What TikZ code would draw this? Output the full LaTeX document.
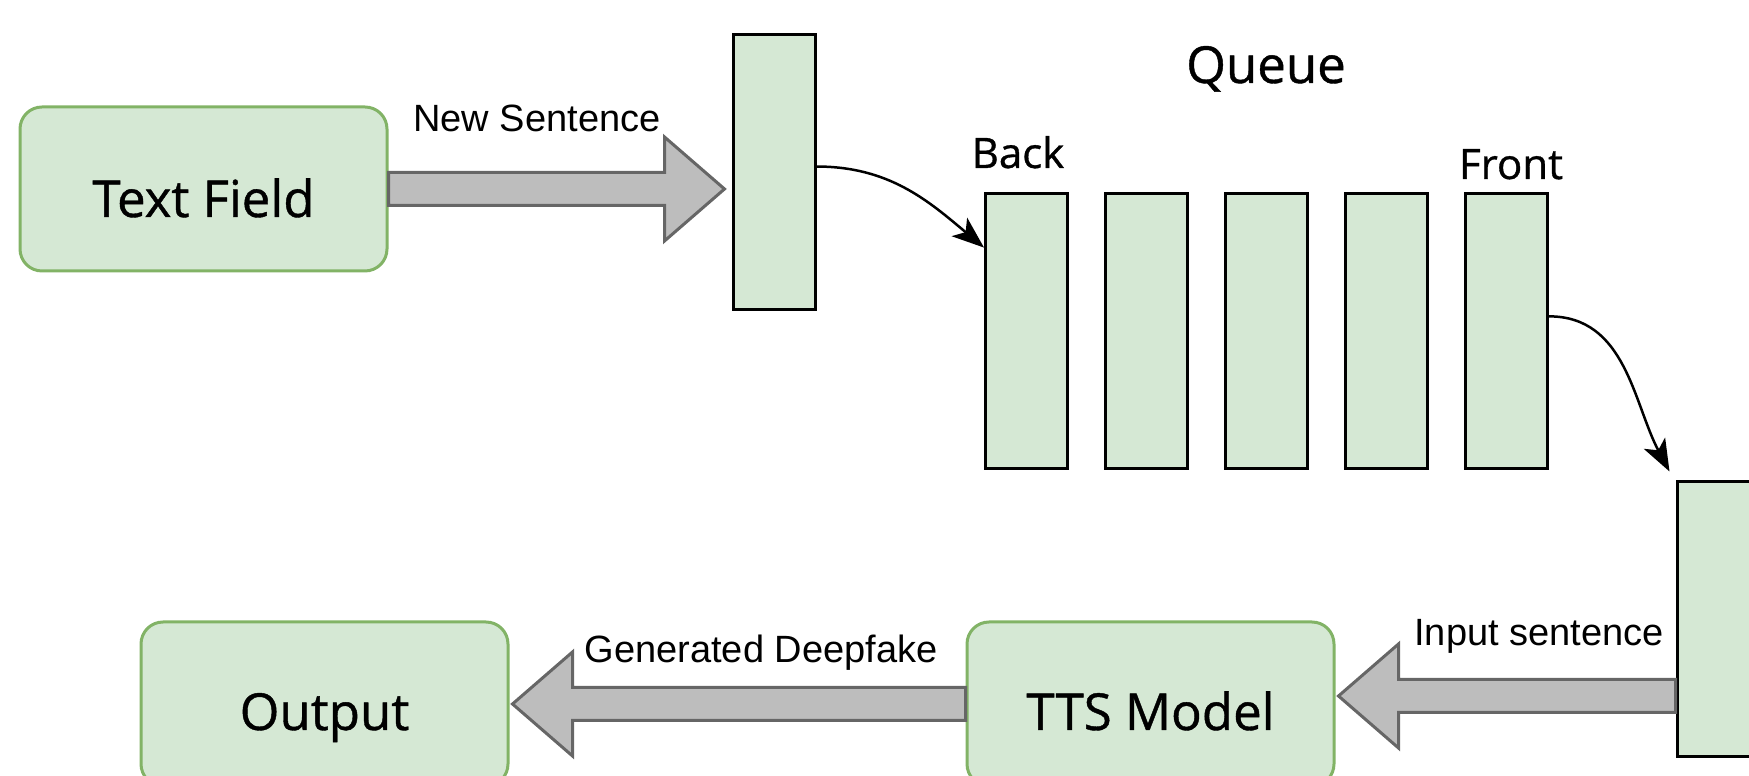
\documentclass[tikz,border=0pt]{standalone}
\usepackage{fontspec}
\setmainfont{Liberation Sans}
\newfontfamily\handfont[FakeBold=0.8]{Open Sans}
\usetikzlibrary{arrows.meta,calc,positioning}
\definecolor{boxfill}{HTML}{D5E8D4}
\definecolor{boxline}{HTML}{82B366}
\definecolor{arrfill}{HTML}{BDBDBD}
\definecolor{arrline}{HTML}{666666}
\tikzset{
  box/.style={draw=boxline,fill=boxfill,line width=3pt,rounded corners=22pt,
    minimum width=367pt,minimum height=164pt,text height=52pt,text depth=0pt,
    font=\handfont\fontsize{51}{60}\selectfont},
  cell/.style={draw=black,fill=boxfill,line width=3pt,minimum width=82pt,
    minimum height=275pt,inner sep=0pt},
  fatarrow/.style={draw=arrline,fill=arrfill,line width=3pt,line join=miter},
  curvy/.style={line width=2.5pt,-{Stealth[length=32pt,width=24pt,inset=8pt]}},
  lbl/.style={font=\fontsize{38}{44}\selectfont,inner sep=0pt,anchor=base},
  hand/.style={font=\handfont\fontsize{#1}{#1}\selectfont,inner sep=0pt,anchor=base}
}

\begin{document}
\begin{tikzpicture}[x=1pt,y=1pt]
    \useasboundingbox (0,0) rectangle (1749,776);
    \clip (0,0) rectangle (1749,776);
    % boxes and queue cells
    \node (tf) [box,text height=56pt] at (203.5,587) {Text Field};
    \node (new) [cell] at (774,603.5) {};
    \foreach \i in {1,...,5}
      \node (q\i) [cell] at ({1026.5+120*(\i-1)},445) {};
    \node (r) [cell] at (1718,156.5) {};
    \node (tts) [box] at (1150.5,72) {TTS Model};
    \node (out) [box] at (324.5,72) {Output};
    \node (queue) [hand=51] at (1266,693) {Queue};
    \node (back) [hand=42] at (1018,608) {Back};
    \node (front) [hand=42] at (1511,597) {Front};
    % wide arrows
    \draw[fatarrow] let \p1=(tf.east), \p2=($(new.west)+(-7,0)$) in
      (\x1,\y1+16.5pt) -- (\x2-60pt,\y1+16.5pt) -- (\x2-60pt,\y1+52pt) -- (\x2,\y1)
      -- (\x2-60pt,\y1-52pt) -- (\x2-60pt,\y1-16.5pt) -- (\x1,\y1-16.5pt) -- cycle;
    \draw[fatarrow] let \p1=(tts.west), \p2=($(out.east)+(3,0)$) in
      (\x1,\y1+16.5pt) -- (\x2+60pt,\y1+16.5pt) -- (\x2+60pt,\y1+52pt) -- (\x2,\y1)
      -- (\x2+60pt,\y1-52pt) -- (\x2+60pt,\y1-16.5pt) -- (\x1,\y1-16.5pt) -- cycle;
    \draw[fatarrow] let \p1=($(r.west)+(0,-76.5)$), \p2=($(tts.east)+(3,8)$) in
      (\x1,\y1+16.5pt) -- (\x2+60pt,\y1+16.5pt) -- (\x2+60pt,\y1+52pt) -- (\x2,\y1)
      -- (\x2+60pt,\y1-52pt) -- (\x2+60pt,\y1-16.5pt) -- (\x1,\y1-16.5pt) -- cycle;
    \node (ns) [lbl] at (537,644) {New Sentence};
    \node (gd) [lbl] at (761,113) {Generated Deepfake};
    \node (is) [lbl] at (1539,130) {Input sentence};
    % curved links
    \coordinate (rin) at ($(r.north west)+(-6,9)$);
    \draw[curvy] (new.8) to[out=0,in=140] (q1.117);
    \draw[curvy] (q5.19) to[out=0,in=118] (rin);
\end{tikzpicture}
\end{document}
